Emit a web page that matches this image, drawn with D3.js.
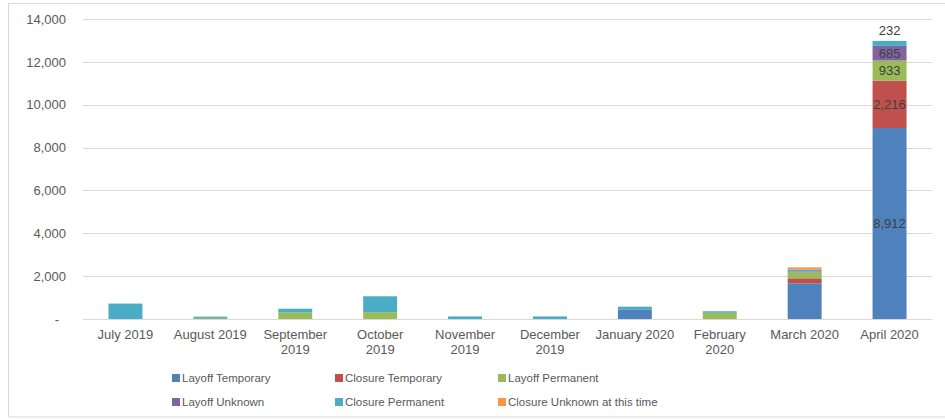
<!DOCTYPE html>
<html>
<head>
<meta charset="utf-8">
<script src="https://cdn.jsdelivr.net/npm/d3@7"></script>
<style>
  html, body { margin: 0; padding: 0; background: #fff; }
  svg { display: block; font-family: "Liberation Sans", Arial, sans-serif; }
</style>
</head>
<body>
<svg id="chart" width="945" height="420"></svg>
<script>
// ---- data ----
const categories = ["July 2019","August 2019","September 2019","October 2019","November 2019",
                    "December 2019","January 2020","February 2020","March 2020","April 2020"];
const categoryLines = [["July 2019"],["August 2019"],["September","2019"],["October","2019"],
                       ["November","2019"],["December","2019"],["January 2020"],["February","2020"],
                       ["March 2020"],["April 2020"]];
const seriesNames = ["Layoff Temporary","Closure Temporary","Layoff Permanent",
                     "Layoff Unknown","Closure Permanent","Closure Unknown at this time"];
const layoffTemporary  = [0, 0, 0, 0, 0, 0, 450, 0, 1665, 8912];
const closureTemporary = [0, 0, 0, 0, 0, 0, 0, 0, 235, 2216];
const layoffPermanent  = [0, 50, 310, 320, 0, 0, 0, 290, 280, 933];
const layoffUnknown    = [0, 0, 0, 0, 0, 0, 0, 0, 40, 685];
const closurePermanent = [720, 60, 170, 740, 120, 120, 125, 70, 80, 232];
const closureUnknown   = [0, 0, 0, 0, 0, 0, 0, 0, 110, 0];
const yTicks = [0, 2000, 4000, 6000, 8000, 10000, 12000, 14000];
const labelledCategory = "April 2020";
const labelledSeries = ["Layoff Temporary","Closure Temporary","Layoff Permanent","Layoff Unknown","Closure Permanent"];

const colors = ["#4F81BD","#C0504D","#9BBB59","#8064A2","#4BACC6","#F79646"];

// ---- build table ----
const seriesValues = [layoffTemporary, closureTemporary, layoffPermanent, layoffUnknown, closurePermanent, closureUnknown];
const table = categories.map((c, i) => {
  const row = { category: c };
  seriesNames.forEach((s, j) => row[s] = seriesValues[j][i]);
  return row;
});
const stacked = d3.stack().keys(seriesNames)(table);

const svg = d3.select("#chart");

// outer border
svg.append("rect").attr("x", 8.5).attr("y", 3.5).attr("width", 945).attr("height", 413.5)
  .attr("fill", "none").attr("stroke", "#d9d9d9").attr("stroke-width", 1);

const x = d3.scaleBand().domain(categories).range([83, 932]).paddingInner(0.6).paddingOuter(0.3);
const y = d3.scaleLinear().domain([0, 14000]).range([319, 19]);
const color = d3.scaleOrdinal().domain(seriesNames).range(colors);

// gridlines
svg.append("g").selectAll("line").data(yTicks).join("line")
  .attr("x1", 83).attr("x2", 932)
  .attr("y1", d => Math.round(y(d)) + 0.5).attr("y2", d => Math.round(y(d)) + 0.5)
  .attr("stroke", "#d9d9d9").attr("stroke-width", 1);

// y axis
const yAxis = d3.axisLeft(y).tickValues(yTicks).tickSize(0).tickPadding(0)
  .tickFormat(d => d === 0 ? "-" : d3.format(",")(d));
const yg = svg.append("g").attr("transform", "translate(66,0)").call(yAxis);
yg.select(".domain").remove();
yg.selectAll("text").attr("fill", "#595959").style("font-size", "13px")
  .attr("dx", d => d === 0 ? -7 : 0);

// bars
svg.append("g").selectAll("g").data(stacked).join("g")
  .attr("fill", d => color(d.key))
  .selectAll("rect").data(d => d).join("rect")
  .attr("x", d => x(d.data.category))
  .attr("width", x.bandwidth())
  .attr("y", d => y(d[1]))
  .attr("height", d => Math.max(0, y(d[0]) - y(d[1])));

// data labels (April)
const labelGroup = svg.append("g");
stacked.forEach(s => {
  if (!labelledSeries.includes(s.key)) return;
  const d = s.find(p => p.data.category === labelledCategory);
  const v = d.data[s.key];
  const isTop = s.key === "Closure Permanent";
  const cy = isTop ? y(d[1]) - 10 : (y(d[0]) + y(d[1])) / 2;
  labelGroup.append("text")
    .attr("x", x(labelledCategory) + x.bandwidth() / 2)
    .attr("y", cy)
    .attr("dy", "0.35em")
    .attr("text-anchor", "middle")
    .attr("fill", "#404040")
    .style("font-size", "13px")
    .text(d3.format(",")(v));
});

// x axis labels
const xg = svg.append("g");
categories.forEach((c, i) => {
  const t = xg.append("text")
    .attr("x", x(c) + x.bandwidth() / 2)
    .attr("y", 339)
    .attr("text-anchor", "middle")
    .attr("fill", "#595959")
    .style("font-size", "13px");
  categoryLines[i].forEach((line, k) => {
    t.append("tspan").attr("x", x(c) + x.bandwidth() / 2).attr("dy", k === 0 ? 0 : 15).text(line);
  });
});

// legend
const legendCols = [172, 335, 498];
const legendRows = [378, 402];
const lg = svg.append("g");
seriesNames.forEach((s, i) => {
  const cx = legendCols[i % 3], cy = legendRows[Math.floor(i / 3)];
  lg.append("rect").attr("x", cx).attr("y", cy - 4).attr("width", 8).attr("height", 8).attr("fill", color(s));
  lg.append("text").attr("x", cx + 10).attr("y", cy).attr("dy", "0.35em")
    .attr("fill", "#595959").style("font-size", "11.5px").text(s);
});
</script>
</body>
</html>
